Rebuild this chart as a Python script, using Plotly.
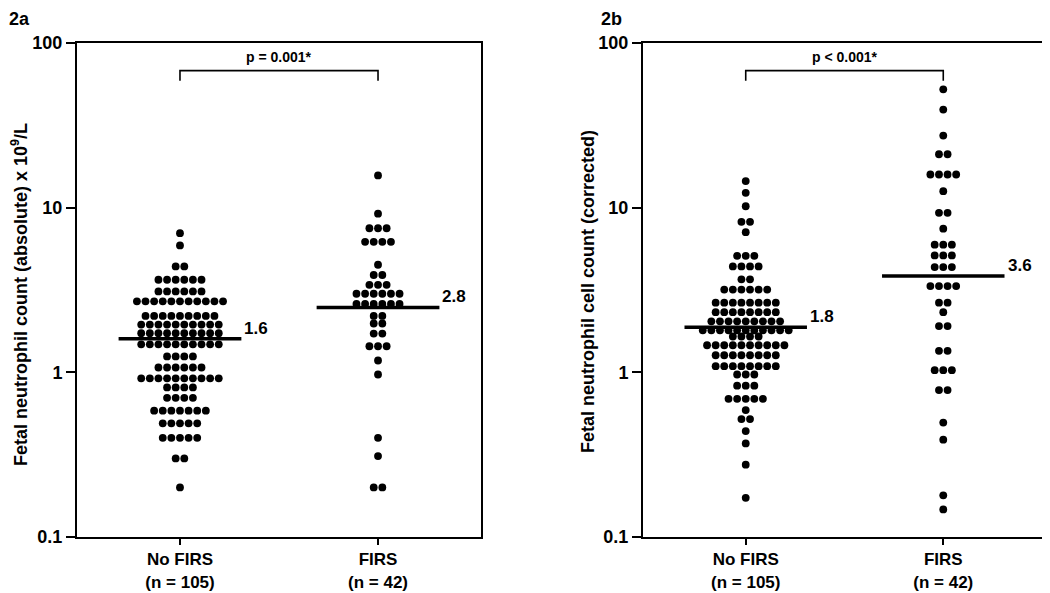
import numpy as np
import plotly.graph_objects as go

# ---------------- data ----------------
categories = ["No FIRS", "FIRS"]
n_labels = ["(n = 105)", "(n = 42)"]

# 2a: fetal neutrophil count (absolute) x 10^9/L
nofirs_a = [7.0, 5.9, 4.4, 4.4,
            3.65, 3.65, 3.65, 3.65, 3.65, 3.65,
            3.1, 3.1, 3.1, 3.1, 3.1, 3.1,
            2.7, 2.7, 2.7, 2.7, 2.7, 2.7, 2.7, 2.7, 2.7, 2.7, 2.7,
            2.2, 2.2, 2.2, 2.2, 2.2, 2.2, 2.2, 2.2, 2.2,
            1.95, 1.95, 1.95, 1.95, 1.95, 1.95, 1.95, 1.95, 1.95, 1.95,
            1.73, 1.73, 1.73, 1.73, 1.73, 1.73, 1.73, 1.73, 1.73, 1.73,
            1.48, 1.48, 1.48, 1.48, 1.48, 1.48, 1.48, 1.48, 1.48, 1.48,
            1.25, 1.25, 1.25, 1.25,
            1.07, 1.07, 1.07, 1.07, 1.07, 1.07,
            0.92, 0.92, 0.92, 0.92, 0.92, 0.92, 0.92, 0.92, 0.92, 0.92,
            0.81, 0.81, 0.81, 0.81,
            0.70, 0.70, 0.70, 0.70,
            0.585, 0.585, 0.585, 0.585, 0.585, 0.585, 0.585,
            0.49, 0.49, 0.49, 0.49, 0.49,
            0.40, 0.40, 0.40, 0.40, 0.40,
            0.30, 0.30,
            0.20]
firs_a = [15.7, 9.2, 7.5, 7.5, 7.5, 6.2, 6.2, 6.2, 6.2, 4.5, 3.9, 3.9,
          3.4, 3.4, 3.4, 3.0, 3.0, 3.0, 3.0, 3.0, 3.0,
          2.6, 2.6, 2.6, 2.6, 2.6, 2.6, 2.2, 2.2, 1.98, 1.98, 1.72, 1.72,
          1.44, 1.44, 1.44, 1.18, 0.97, 0.40, 0.31, 0.20, 0.20]
median_a = [1.6, 2.48]
median_text_a = ["1.6", "2.8"]
p_text_a = "p = 0.001*"

# 2b: fetal neutrophil cell count (corrected)
nofirs_b = [14.5, 12.3, 10.2, 8.2, 8.2, 7.1, 5.1, 5.1, 5.1,
            4.4, 4.4, 4.4, 4.4, 3.67, 3.67,
            3.18, 3.18, 3.18, 3.18, 3.18, 3.18,
            2.65, 2.65, 2.65, 2.65, 2.65, 2.65, 2.65, 2.65,
            2.32, 2.32, 2.32, 2.32, 2.32, 2.32, 2.32, 2.32,
            2.04, 2.04, 2.04, 2.04, 2.04, 2.04, 2.04, 2.04, 2.04,
            1.8, 1.8, 1.8, 1.8, 1.8, 1.8, 1.8, 1.8, 1.8, 1.8, 1.8,
            1.65, 1.65, 1.65, 1.65,
            1.46, 1.46, 1.46, 1.46, 1.46, 1.46, 1.46, 1.46, 1.46, 1.46,
            1.27, 1.27, 1.27, 1.27, 1.27, 1.27, 1.27, 1.27,
            1.09, 1.09, 1.09, 1.09, 1.09, 1.09, 1.09, 1.09,
            0.97, 0.97, 0.97, 0.83, 0.83, 0.83,
            0.69, 0.69, 0.69, 0.69, 0.69,
            0.59, 0.52, 0.52, 0.44, 0.37, 0.275, 0.173]
firs_b = [52.3, 39.4, 27.4, 21.1, 21.1, 15.9, 15.9, 15.9, 15.9, 12.6,
          9.3, 9.3, 7.45, 5.96, 5.96, 5.96, 5.13, 5.13, 5.13,
          4.36, 4.36, 4.36, 3.34, 3.34, 3.34, 3.34, 2.65, 2.65, 2.32,
          1.91, 1.91, 1.35, 1.35, 1.03, 1.03, 1.03, 0.78, 0.78,
          0.495, 0.39, 0.179, 0.147]
median_b = [1.88, 3.84]
median_text_b = ["1.8", "3.6"]
p_text_b = "p < 0.001*"

bracket_top = 68
bracket_low = 59

y_ticks = [0.1, 1, 10, 100]
y_tick_text = ["0.1", "1", "10", "100"]
title_a = "Fetal neutrophil count (absolute) x 10<sup>9</sup>/L"
title_b = "Fetal neutrophil cell count (corrected)"

# ---------------- helpers ----------------
FONT = "Liberation Sans, Arial, sans-serif"
SPACING = 0.0435   # horizontal dot spacing in category units
HALF = 0.31        # half-width of the median bars

# the page body has an 8px margin: size the figure to fit the window
OFF = 8
W, H = 1050 - OFF, 593 - OFF


def px(xp):
    return (xp - OFF) / W


def py(yp):
    return 1 - (yp - OFF) / H


def swarm(vals, center):
    vals = np.asarray(vals, dtype=float)
    xs = np.zeros(len(vals))
    for v in np.unique(vals):
        idx = np.where(vals == v)[0]
        k = len(idx)
        xs[idx] = center + (np.arange(k) - (k - 1) / 2) * SPACING
    return xs


fig = go.Figure()
shapes = []
annotations = []

panels = [
    ("x", "y", [nofirs_a, firs_a], median_a, median_text_a, p_text_a),
    ("x2", "y2", [nofirs_b, firs_b], median_b, median_text_b, p_text_b),
]

for xr, yr, groups, med, medtxt, ptxt in panels:
    for i, g in enumerate(groups):
        fig.add_trace(go.Scatter(
            x=swarm(g, i), y=g, mode="markers", xaxis=xr, yaxis=yr,
            marker=dict(color="black", size=7.8, line=dict(width=0)),
            showlegend=False, hoverinfo="y"))
        shapes.append(dict(type="line", xref=xr, yref=yr,
                           x0=i - HALF, x1=i + HALF,
                           y0=med[i], y1=med[i],
                           line=dict(color="black", width=3.5)))
        annotations.append(dict(xref=xr, yref=yr, x=i + HALF,
                                y=np.log10(med[i]), text="<b>%s</b>" % medtxt[i],
                                showarrow=False, xanchor="left", yanchor="bottom",
                                xshift=1, yshift=-1,
                                font=dict(family=FONT, size=17, color="black")))
    # significance bracket
    shapes.append(dict(type="path", xref=xr, yref=yr,
                       path="M 0 %g L 0 %g L 1 %g L 1 %g" % (bracket_low, bracket_top,
                                                             bracket_top, bracket_low),
                       line=dict(color="black", width=1.6)))
    annotations.append(dict(xref=xr, yref=yr, x=0.5, y=np.log10(bracket_top),
                            text="<b>%s</b>" % ptxt, showarrow=False,
                            xanchor="center", yanchor="bottom", yshift=4,
                            font=dict(family=FONT, size=14, color="black")))

xdom_a = [px(77), px(481)]
xdom_b = [px(643), px(1046)]
ydom = [py(537), py(43)]

tick_text_x = ["<b>%s<br>%s</b>" % (c, n) for c, n in zip(categories, n_labels)]

common_x = dict(range=[-0.52, 1.52], tickvals=[0, 1], ticktext=tick_text_x,
                showline=True, linecolor="black", linewidth=2, mirror=True,
                ticks="outside", ticklen=6, tickwidth=2, tickcolor="black",
                showgrid=False, zeroline=False, fixedrange=True, automargin=False,
                tickfont=dict(family=FONT, size=17, color="black"))
common_y = dict(type="log", range=[-1, 2], tickvals=y_ticks,
                ticktext=["<b>%s</b>" % t for t in y_tick_text],
                showline=True, linecolor="black", linewidth=2, mirror=True,
                ticks="outside", ticklen=9, tickwidth=2, tickcolor="black",
                showgrid=False, zeroline=False, automargin=False,
                tickfont=dict(family=FONT, size=18, color="black"))

fig.update_layout(
    width=W, height=H, autosize=False,
    margin=dict(l=0, r=0, t=0, b=0, autoexpand=False),
    paper_bgcolor="white", plot_bgcolor="white",
    xaxis=dict(domain=xdom_a, anchor="y", **common_x),
    yaxis=dict(domain=ydom, anchor="x", **common_y),
    xaxis2=dict(domain=xdom_b, anchor="y2", **common_x),
    yaxis2=dict(domain=ydom, anchor="x2", **common_y),
    shapes=shapes,
)

annotations += [
    dict(xref="paper", yref="paper", x=px(8), y=1, text="<b>2a</b>",
         showarrow=False, xanchor="left", yanchor="top", borderpad=0,
         font=dict(family=FONT, size=18, color="black")),
    dict(xref="paper", yref="paper", x=px(600), y=1, text="<b>2b</b>",
         showarrow=False, xanchor="left", yanchor="top", borderpad=0,
         font=dict(family=FONT, size=18, color="black")),
    dict(xref="paper", yref="paper", x=px(19), y=py(295), text="<b>%s</b>" % title_a,
         textangle=-90, showarrow=False, xanchor="center", yanchor="middle",
         font=dict(family=FONT, size=18, color="black")),
    dict(xref="paper", yref="paper", x=px(588), y=py(292), text="<b>%s</b>" % title_b,
         textangle=-90, showarrow=False, xanchor="center", yanchor="middle",
         font=dict(family=FONT, size=18, color="black")),
]
fig.update_layout(annotations=annotations)

fig.write_html("out.html")
